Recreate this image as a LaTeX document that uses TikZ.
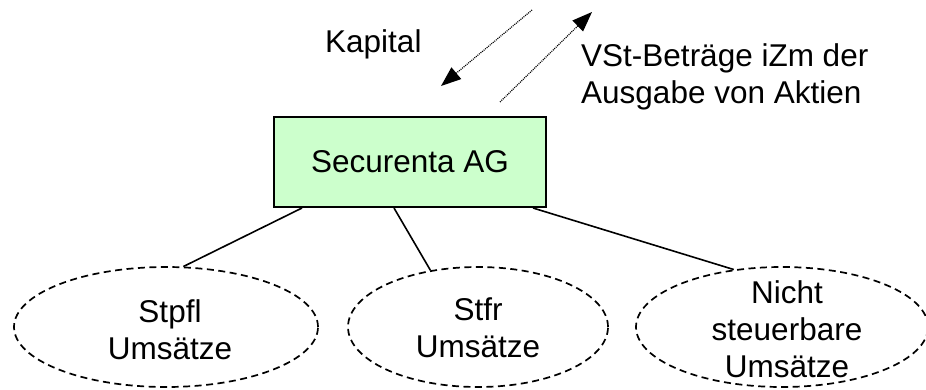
\documentclass[tikz,border=0pt]{standalone}
\usepackage{fontspec}
\setmainfont{Liberation Sans}
\usetikzlibrary{arrows.meta,shapes.geometric}
\definecolor{boxgreen}{RGB}{204,255,204}

\begin{document}
\begin{tikzpicture}[x=1pt, y=-1pt,
		every node/.style={font=\fontsize{31.5}{37}\selectfont, inner sep=0pt},
		firma/.style={draw, line width=2pt, fill=boxgreen, minimum width=272pt, minimum height=90pt},
		umsatz/.style={draw, ellipse, dash pattern=on 7pt off 4.5pt, line width=1.7pt, minimum width=#1, minimum height=120pt},
		umsatztext/.style={anchor=base, align=center},
		kante/.style={line width=1.6pt},
		fluss/.style={dash pattern=on 1pt off 1pt, line width=1.2pt, -{Triangle[length=20pt, width=15pt]}}]
		%%%%% START %%%%%
		
		\useasboundingbox (0, 0) rectangle (926, 389);
		
		\node[firma] (ag) at (410, 162) {Securenta AG};
		
		\node[umsatz=304pt] (stpfl) at (166, 327) {};
		\node[umsatz=260pt] (stfr) at (478, 327) {};
		\node[umsatz=292pt] (nstb) at (782, 327) {};
		
		% Basis = letzte Zeile
		\node[umsatztext] (stpfltext) at (170, 359) {Stpfl\\Umsätze};
		\node[umsatztext] (stfrtext) at (478, 357) {Stfr\\Umsätze};
		\node[umsatztext] (nstbtext) at (787, 377) {Nicht\\steuerbare\\Umsätze};
		
		\draw[kante] ([xshift=29pt]ag.south west) -- (stpfl.74);
		\draw[kante] ([xshift=121pt]ag.south west) -- (stfr.130);
		\draw[kante] ([xshift=-14pt]ag.south east) -- (nstb.130);
		
		% Kapital und VSt
		\node[anchor=base west] (kapital) at (325, 52) {Kapital};
		\node[anchor=base west, align=left] (vst) at (581, 103) {VSt-Beträge iZm der\\Ausgabe von Aktien};
		
		\coordinate (kapA) at (532, 10);
		\coordinate (kapB) at (441, 86);
		\coordinate (vstA) at (500, 102);
		\coordinate (vstB) at (592, 12);
		\draw[fluss] (kapA) -- (kapB);
		\draw[fluss] (vstA) -- (vstB);
		
		%%%%% END %%%%%
	\end{tikzpicture}
\end{document}
